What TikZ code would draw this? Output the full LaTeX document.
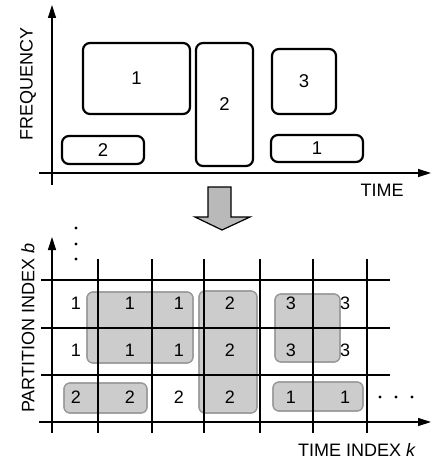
\documentclass[tikz,border=0pt]{standalone}
\usepackage{fontspec}
\setmainfont{Liberation Sans}
\usetikzlibrary{arrows.meta,positioning}
\tikzset{axis/.style={line width=1.3pt,-{Triangle[length=13pt,width=8pt]}},
  band/.style={draw,line width=2.2pt,rounded corners=7pt,inner sep=0pt,font=\fontsize{18.5}{21}\selectfont},
  shade/.style={draw=gray!80,fill=gray!40,line width=1.2pt,rounded corners=6pt},
  gridline/.style={line width=1.2pt},
  lbl/.style={font=\fontsize{18}{21}\selectfont,inner sep=0pt}}

\begin{document}
\begin{tikzpicture}[x=1pt,y=-1pt]
                \useasboundingbox (0,0) rectangle (431,460);
                % time-frequency plane
                \draw[axis] (52,185) -- (52,5);
                \draw[axis] (39,173) -- (431,173);
                \node[lbl,rotate=90] (freq) at (28,84) {FREQUENCY};
                \node[lbl] (time) at (382,190) {TIME};
                \node[band,minimum width=107pt,minimum height=71pt] (sA) at (136.5,78.5) {1};
                \node[band,minimum width=57pt,minimum height=123pt] (sB) at (224.5,104.5) {2};
                \node[band,minimum width=64pt,minimum height=65pt] (sC) at (304,81.5) {3};
                \node[band,minimum width=82pt,minimum height=28pt] (sD) at (103,150) {2};
                \node[band,minimum width=92pt,minimum height=27pt] (sE) at (317,148.5) {1};
                % arrow down
                \draw[line width=1.2pt,fill=gray!55] (208,187) -- (231,187) -- (231,217) -- (250,217)
                    -- (222,230) -- (195,217) -- (208,217) -- cycle;
                % partition grid
                \fill[shade] (87,292) rectangle (193,363);
                \fill[shade] (199,291) rectangle (257,413);
                \fill[shade] (275,294) rectangle (340,362);
                \fill[shade] (64,383) rectangle (147,413);
                \fill[shade] (273,382) rectangle (363,411);
                \draw[shade,fill=none] (87,292) rectangle (193,363);
                \draw[shade,fill=none] (199,291) rectangle (257,413);
                \draw[shade,fill=none] (275,294) rectangle (340,362);
                \draw[shade,fill=none] (64,383) rectangle (147,413);
                \draw[shade,fill=none] (273,382) rectangle (363,411);
                \foreach \x in {98,152,204,260,313,367}
                    \draw[gridline] (\x,259) -- (\x,433);
                \foreach \y in {280,328,375}
                    \draw[gridline] (41,\y) -- (390,\y);
                \draw[axis] (52,433) -- (52,237);
                \draw[axis] (39,422) -- (431,422);
                \foreach \x/\a/\b/\c [count=\i] in {76/1/1/2,130/1/1/2,179/1/1/2,230/2/2/2,291/3/3/1,345/3/3/1}{
                    \node[lbl] (r1c\i) at (\x,303) {\a};
                    \node[lbl] (r2c\i) at (\x,350) {\b};
                    \node[lbl] (r3c\i) at (\x,397) {\c};
                }
                \foreach \y in {228,244,259}
                    \fill (76,\y) circle (1.6);
                \foreach \x in {380,396,412}
                    \fill (\x,397) circle (1.6);
                \node[lbl,rotate=90] (part) at (28,328) {PARTITION INDEX \textit{b}};
                \node[lbl] (tidx) at (357,450) {TIME INDEX \textit{k}};
            \end{tikzpicture}
\end{document}
